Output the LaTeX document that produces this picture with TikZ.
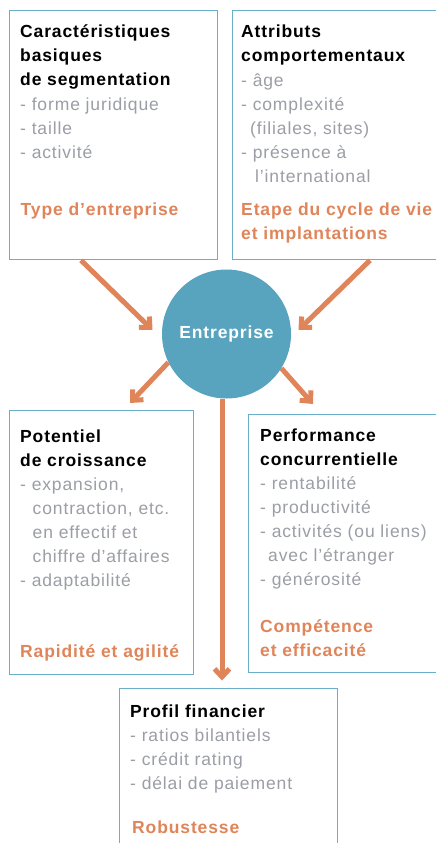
\documentclass[tikz,border=0pt]{standalone}
\usepackage{fontspec}
\setmainfont{Liberation Sans}[LetterSpace=5]
\usetikzlibrary{arrows.meta,calc}
\definecolor{frame}{HTML}{6AAFCA}
\definecolor{disc}{HTML}{58A3BE}
\definecolor{accent}{HTML}{E0855A}
\definecolor{muted}{HTML}{9B9EA5}
\begin{document}
\begin{tikzpicture}[x=1pt,y=-1pt,
  panel/.style={draw=frame, line width=1.3pt, fill=white, anchor=north west, inner sep=0pt},
  ln/.style={anchor=base west, inner sep=0pt, font=\fontsize{17.5}{24}\selectfont},
  ttl/.style={ln, font=\fontsize{17.5}{24}\selectfont\bfseries, text=black},
  itm/.style={ln, text=muted},
  res/.style={ln, font=\fontsize{17.5}{24}\selectfont\bfseries, text=accent},
  flow/.style={draw=accent, line width=5pt, -{Straight Barb[sharp,length=8pt,width=15pt]}}]
\useasboundingbox (0,0) rectangle (436,843);
\clip (0,0) rectangle (436,843);

% panels
\node[panel, minimum width=208, minimum height=249] (tl) at (9,10) {};
\node[panel, minimum width=220, minimum height=249] (tr) at (232,10) {};
\node[panel, minimum width=184, minimum height=264] (ml) at (9,410) {};
\node[panel, minimum width=200, minimum height=258] (mr) at (248,414) {};
\node[panel, minimum width=218, minimum height=200] (bt) at (119,688) {};

% central disc
\node[circle, fill=disc, minimum size=129, inner sep=0pt, text=white,
      font=\fontsize{17.5}{24}\selectfont\bfseries] (core) at (226.5,334) {Entreprise};

% connectors
\draw[flow] ($(tl.south west)+(72,0)$) -- ($(core.center)+(-74,-4)$);
\draw[flow] ($(tr.south west)+(138,0)$) -- ($(core.center)+(72,-4)$);
\draw[flow] (core.206) -- ($(ml.north west)+(121,-7)$);
\draw[flow] (core.328) -- ($(mr.north west)+(65,-10)$);
\draw[flow] ($(core.south)+(-4.5,0)$) -- ($(bt.north west)+(103,-7.5)$);

% top left panel
\node[ttl] (tl1) at (20,37.5) {Caractéristiques};
\node[ttl] (tl2) at (20,61.5) {basiques};
\node[ttl] (tl3) at (20,85.5) {de segmentation};
\node[itm] (tl4) at (20,110) {- forme juridique};
\node[itm] (tl5) at (20,134) {- taille};
\node[itm] (tl6) at (20,158) {- activité};
\node[res] (tl7) at (20.5,215) {Type d’entreprise};

% top right panel
\node[ttl] (tr1) at (241,37.5) {Attributs};
\node[ttl] (tr2) at (241,61.5) {comportementaux};
\node[itm] (tr3) at (241,86) {- âge};
\node[itm] (tr4) at (241,110) {- complexité};
\node[itm] (tr5) at (250,134) {(filiales, sites)};
\node[itm] (tr6) at (241,158) {- présence à};
\node[itm] (tr7) at (255,182) {l’international};
\node[res] (tr8) at (241,215) {Etape du cycle de vie};
\node[res] (tr9) at (241,239) {et implantations};

% middle left panel
\node[ttl] (ml1) at (20,442) {Potentiel};
\node[ttl] (ml2) at (20,466) {de croissance};
\node[itm] (ml3) at (20,490) {- expansion,};
\node[itm] (ml4) at (32.5,514) {contraction, etc.};
\node[itm] (ml5) at (32.5,538) {en effectif et};
\node[itm] (ml6) at (32.5,562) {chiffre d’affaires};
\node[itm] (ml7) at (20,586) {- adaptabilité};
\node[res] (ml8) at (20,657) {Rapidité et agilité};

% middle right panel
\node[ttl] (mr1) at (260,441) {Performance};
\node[ttl] (mr2) at (260,465) {concurrentielle};
\node[itm] (mr3) at (260,489) {- rentabilité};
\node[itm] (mr4) at (260,513) {- productivité};
\node[itm] (mr5) at (260,537) {- activités (ou liens)};
\node[itm] (mr6) at (268,561) {avec l’étranger};
\node[itm] (mr7) at (260,585) {- générosité};
\node[res] (mr8) at (260,632) {Compétence};
\node[res] (mr9) at (260,656) {et efficacité};

% bottom panel
\node[ttl] (bt1) at (130,717) {Profil financier};
\node[itm] (bt2) at (130,741) {- ratios bilantiels};
\node[itm] (bt3) at (130,765) {- crédit rating};
\node[itm] (bt4) at (130,789) {- délai de paiement};
\node[res] (bt5) at (132,833.5) {Robustesse};
\end{tikzpicture}
\end{document}
